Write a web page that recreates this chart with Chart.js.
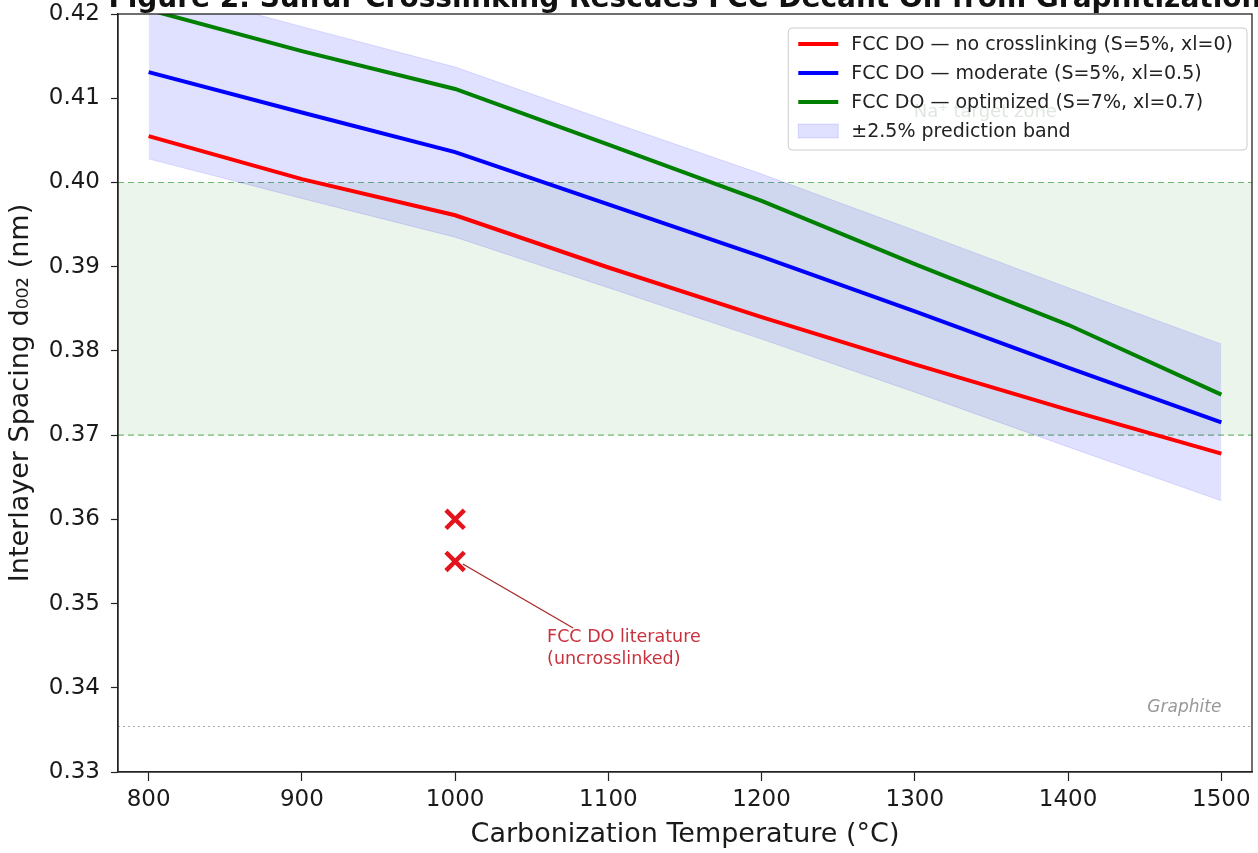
<!DOCTYPE html>
<html><head><meta charset="utf-8">
<script src="https://cdn.jsdelivr.net/npm/chart.js@4.4.1/dist/chart.umd.min.js"></script>
<style>html,body{margin:0;padding:0;background:#fff;overflow:hidden}</style>
</head><body>
<canvas id="c" width="1258" height="853"></canvas>
<script>
// ---- data ----
const temperatures = [800, 900, 1000, 1100, 1200, 1300, 1400, 1500];
const noCrosslink  = [0.4055, 0.4004, 0.3961, 0.3899, 0.3840, 0.3784, 0.3730, 0.3678];
const moderate     = [0.4131, 0.4083, 0.4036, 0.3974, 0.3912, 0.3847, 0.3780, 0.3715];
const optimized    = [0.4205, 0.4156, 0.4111, 0.4045, 0.3978, 0.3903, 0.3831, 0.3748];
const bandUpper    = [0.4234, 0.4185, 0.4137, 0.4073, 0.4010, 0.3943, 0.3875, 0.3808];
const bandLower    = [0.4028, 0.3981, 0.3935, 0.3875, 0.3814, 0.3751, 0.3686, 0.3622];
const literatureT  = [1000, 1000];
const literatureD  = [0.360, 0.355];
const targetZone   = [0.37, 0.40];
const graphiteD    = 0.3354;
const xTicks = [800, 900, 1000, 1100, 1200, 1300, 1400, 1500];
const yTicks = [0.33, 0.34, 0.35, 0.36, 0.37, 0.38, 0.39, 0.40, 0.41, 0.42];
const xRange = [780, 1520];
const yRange = [0.33, 0.42];
const seriesLabels = [
  'FCC DO \u2014 no crosslinking (S=5%, xl=0)',
  'FCC DO \u2014 moderate (S=5%, xl=0.5)',
  'FCC DO \u2014 optimized (S=7%, xl=0.7)',
  '\u00b12.5% prediction band'
];
const titleText = 'Figure 2. Sulfur Crosslinking Rescues FCC Decant Oil from Graphitization';
const xTitle = 'Carbonization Temperature (\u00b0C)';
const yTitle = 'Interlayer Spacing d\u2080\u2080\u2082 (nm)';
const annotationLines = ['FCC DO literature', '(uncrosslinked)'];
const annotationPos = {x: 1060, y: 0.3460, tipX: 1005, tipY: 0.3547, tailX: 1077, tailY: 0.3471};
const zoneLabel = {text: 'Na\u207a target zone', x: 1346, y: 0.4083};
const graphiteLabel = {text: 'Graphite', x: 1500, y: 0.3376};

const FONT = "'DejaVu Sans', sans-serif";
const RED = '#ff0000', BLUE = '#0000ff', GREEN = '#008000';
const BAND_FILL = 'rgba(0,0,255,0.12)';

const pts = (xs, ys) => xs.map((x, i) => ({x, y: ys[i]}));
const hline = (v) => [{x: xRange[0], y: v}, {x: xRange[1], y: v}];

const datasets = [
  {type: 'scatter', data: pts(literatureT, literatureD), pointStyle: 'crossRot', pointRadius: 13,
   borderColor: '#e3141e', borderWidth: 4.5, backgroundColor: '#e3141e'},
  {type: 'line', data: pts(temperatures, optimized), borderColor: GREEN, borderWidth: 4, pointRadius: 0, fill: false},
  {type: 'line', data: pts(temperatures, moderate), borderColor: BLUE, borderWidth: 4, pointRadius: 0, fill: false},
  {type: 'line', data: pts(temperatures, noCrosslink), borderColor: RED, borderWidth: 4, pointRadius: 0, fill: false},
  {type: 'line', data: pts(temperatures, bandUpper), borderColor: 'rgba(0,0,255,0.12)', borderWidth: 1, pointRadius: 0,
   fill: '+1', backgroundColor: BAND_FILL},
  {type: 'line', data: pts(temperatures, bandLower), borderColor: 'rgba(0,0,255,0.12)', borderWidth: 1, pointRadius: 0, fill: false},
  {type: 'line', data: hline(targetZone[1]), borderColor: 'rgba(0,128,0,0.55)', borderWidth: 1.1, borderDash: [6, 4],
   pointRadius: 0, fill: '+1', backgroundColor: 'rgba(0,128,0,0.08)'},
  {type: 'line', data: hline(targetZone[0]), borderColor: 'rgba(0,128,0,0.55)', borderWidth: 1.1, borderDash: [6, 4],
   pointRadius: 0, fill: false},
  {type: 'line', data: hline(graphiteD), borderColor: '#aaaaaa', borderWidth: 1.1, borderDash: [2, 3], pointRadius: 0, fill: false}
];

const decor = {
  id: 'decor',
  afterDatasetsDraw(chart) {
    const {ctx, chartArea: ca, scales: {x, y}} = chart;
    ctx.save();
    ctx.beginPath(); ctx.rect(ca.left, ca.top, ca.right - ca.left, ca.bottom - ca.top); ctx.clip();
    // zone label (behind legend)
    ctx.font = '18px ' + FONT; ctx.fillStyle = 'rgba(70,110,70,0.85)';
    ctx.textAlign = 'center'; ctx.textBaseline = 'middle';
    ctx.fillText(zoneLabel.text, x.getPixelForValue(zoneLabel.x), y.getPixelForValue(zoneLabel.y));
    // graphite label
    ctx.font = 'italic 17px ' + FONT; ctx.fillStyle = '#999999'; ctx.textAlign = 'right';
    ctx.fillText(graphiteLabel.text, x.getPixelForValue(graphiteLabel.x), y.getPixelForValue(graphiteLabel.y));
    // annotation arrow
    ctx.strokeStyle = '#a82828'; ctx.lineWidth = 1.3;
    ctx.beginPath();
    ctx.moveTo(x.getPixelForValue(annotationPos.tailX), y.getPixelForValue(annotationPos.tailY));
    ctx.lineTo(x.getPixelForValue(annotationPos.tipX), y.getPixelForValue(annotationPos.tipY));
    ctx.stroke();
    ctx.font = '17.5px ' + FONT; ctx.fillStyle = '#c8323c'; ctx.textAlign = 'left'; ctx.textBaseline = 'middle';
    const ax = x.getPixelForValue(annotationPos.x), ay = y.getPixelForValue(annotationPos.y);
    annotationLines.forEach((t, i) => ctx.fillText(t, ax, ay + i * 22));
    ctx.restore();

    // legend
    ctx.save();
    ctx.font = '19px ' + FONT;
    const tw = Math.max(...seriesLabels.map(t => ctx.measureText(t).width));
    const bw = 10 + 40 + 13 + tw + 14, bh = 122;
    const bx = ca.right - 5 - bw, by = ca.top + 14;
    ctx.beginPath();
    if (ctx.roundRect) ctx.roundRect(bx, by, bw, bh, 4); else ctx.rect(bx, by, bw, bh);
    ctx.fillStyle = 'rgba(255,255,255,0.8)'; ctx.fill();
    ctx.strokeStyle = '#cccccc'; ctx.lineWidth = 1; ctx.stroke();
    const colors = [RED, BLUE, GREEN];
    ctx.textAlign = 'left'; ctx.textBaseline = 'middle';
    for (let i = 0; i < 4; i++) {
      const cy = by + 16 + i * 29;
      if (i < 3) {
        ctx.strokeStyle = colors[i]; ctx.lineWidth = 4;
        ctx.beginPath(); ctx.moveTo(bx + 10, cy); ctx.lineTo(bx + 50, cy); ctx.stroke();
      } else {
        ctx.fillStyle = BAND_FILL; ctx.fillRect(bx + 10, cy - 7, 40, 14);
        ctx.strokeStyle = 'rgba(0,0,255,0.12)'; ctx.lineWidth = 1; ctx.strokeRect(bx + 10, cy - 7, 40, 14);
      }
      ctx.fillStyle = '#222222';
      ctx.fillText(seriesLabels[i], bx + 63, cy + 1);
    }
    ctx.restore();
  },
  afterDraw(chart) {
    const {ctx, chartArea: ca} = chart;
    ctx.save();
    ctx.strokeStyle = '#222222'; ctx.lineWidth = 1.3;
    ctx.strokeRect(ca.left, ca.top, ca.right - ca.left, ca.bottom - ca.top);
    ctx.font = 'bold 28px ' + FONT; ctx.fillStyle = '#111111';
    ctx.textAlign = 'center'; ctx.textBaseline = 'alphabetic';
    ctx.fillText(titleText, (ca.left + ca.right) / 2, 7);
    ctx.restore();
  }
};

const zeroPad = (s) => { s.paddingTop = 0; s.paddingBottom = 0; s.paddingLeft = 0; s.paddingRight = 0; };

new Chart(document.getElementById('c'), {
  data: {datasets},
  options: {
    responsive: false, animation: false, devicePixelRatio: 1,
    layout: {autoPadding: false, padding: {top: 14, right: 6, left: 0, bottom: 0}},
    plugins: {legend: {display: false}, title: {display: false}, tooltip: {enabled: false}},
    scales: {
      x: {
        type: 'linear', min: xRange[0], max: xRange[1],
        afterBuildTicks: (s) => { s.ticks = xTicks.map(v => ({value: v})); },
        afterFit: (s) => { s.height = 81; zeroPad(s); },
        ticks: {font: {family: FONT, size: 23}, color: '#1a1a1a', padding: 5, maxRotation: 0,
                callback: (v) => String(v)},
        grid: {drawOnChartArea: false, drawTicks: true, tickLength: 9, color: '#222222', tickWidth: 1.2},
        border: {display: true, color: '#222222', width: 1.3},
        title: {display: true, text: xTitle, font: {family: FONT, size: 27, lineHeight: 1.2}, color: '#1a1a1a',
                padding: {top: 0, bottom: 2}}
      },
      y: {
        type: 'linear', min: yRange[0], max: yRange[1],
        afterBuildTicks: (s) => { s.ticks = yTicks.map(v => ({value: v})); },
        afterFit: (s) => { s.width = 118; zeroPad(s); },
        ticks: {font: {family: FONT, size: 23}, color: '#1a1a1a', padding: 11,
                callback: (v) => Number(v).toFixed(2)},
        grid: {drawOnChartArea: false, drawTicks: true, tickLength: 7, color: '#222222', tickWidth: 1.2},
        border: {display: true, color: '#222222', width: 1.3},
        title: {display: true, text: yTitle, font: {family: FONT, size: 27, lineHeight: 1.2}, color: '#1a1a1a',
                padding: {top: 5, bottom: 0}}
      }
    }
  },
  plugins: [decor]
});
</script>
</body></html>
